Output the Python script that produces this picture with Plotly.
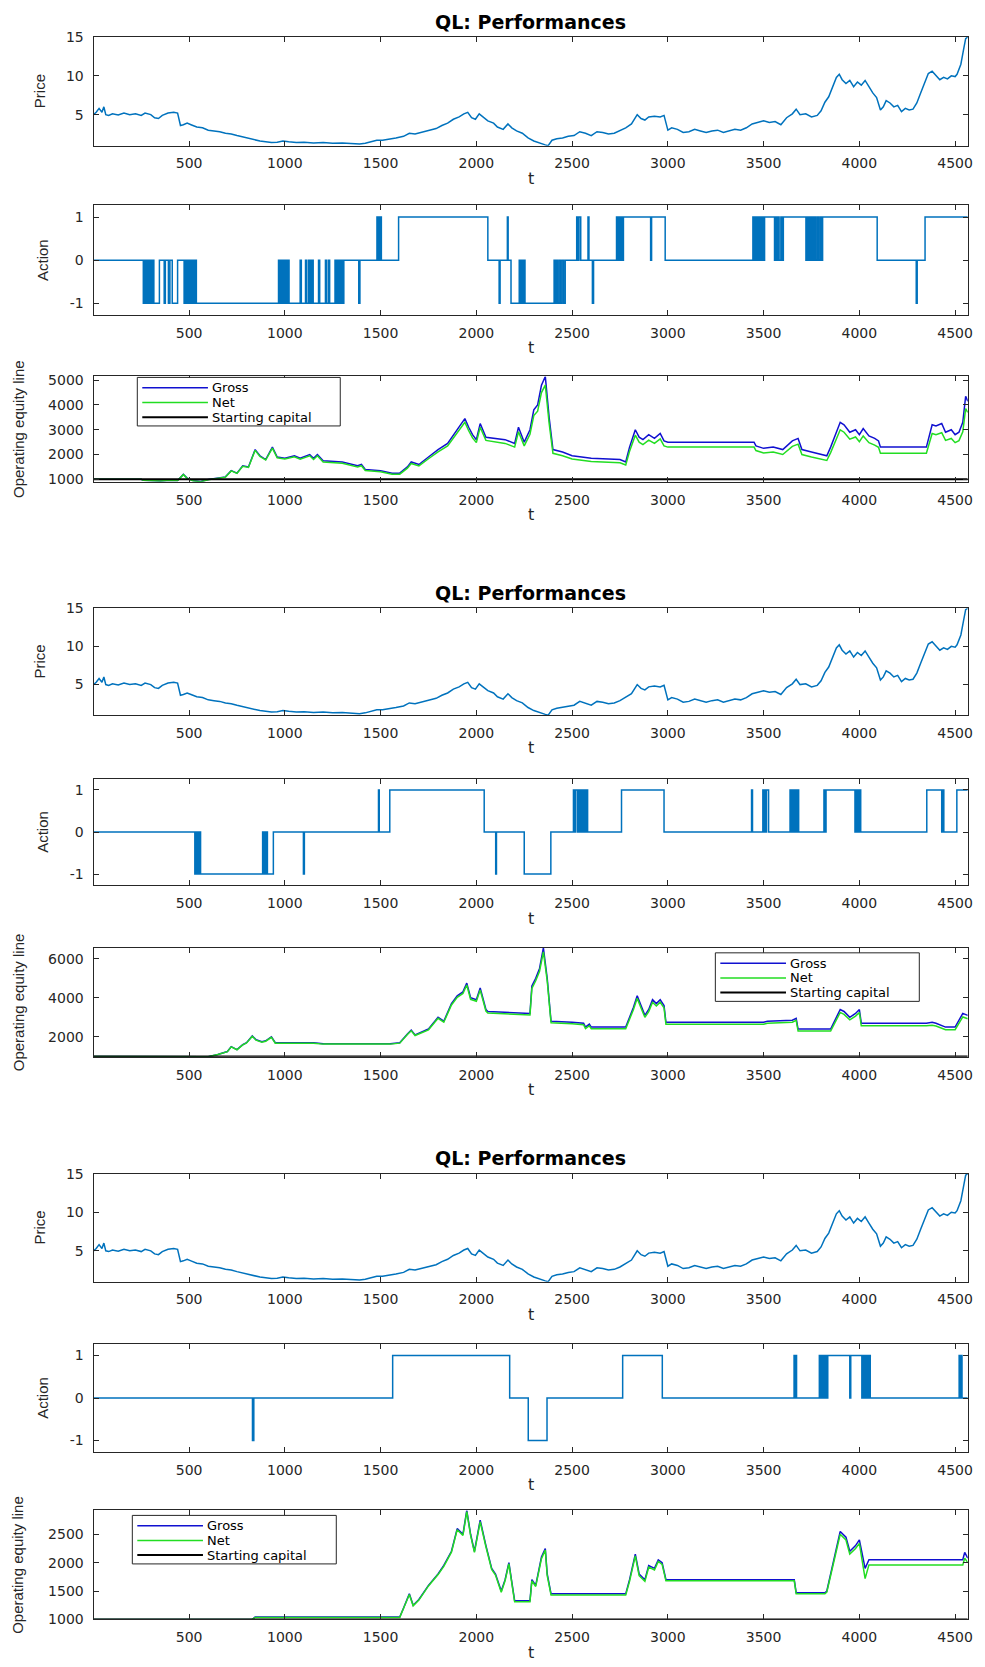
import plotly.graph_objects as go

W, H = 985, 1667

# ---------------- data ----------------
T_RANGE = [1, 4566]
X_TICKS = [500, 1000, 1500, 2000, 2500, 3000, 3500, 4000, 4500]

price_t = [1, 15, 30, 45, 55, 65, 80, 100, 130, 160, 190, 220, 250, 270, 300, 320, 340, 360, 390, 420,
           440, 455, 470, 490, 510, 540, 570, 600, 630, 660, 690, 720, 750, 780, 810, 840, 870, 900, 930,
           960, 990, 1020, 1060, 1100, 1150, 1200, 1250, 1300, 1350, 1390, 1420, 1450, 1480, 1510, 1540,
           1580, 1620, 1650, 1680, 1710, 1750, 1790, 1820, 1850, 1880, 1910, 1935, 1955, 1975, 1995, 2015,
           2030, 2060, 2090, 2110, 2140, 2165, 2185, 2210, 2240, 2270, 2300, 2330, 2360, 2375, 2395, 2420,
           2450, 2480, 2510, 2540, 2570, 2600, 2630, 2660, 2690, 2720, 2750, 2780, 2810, 2840, 2860, 2880,
           2900, 2930, 2960, 2980, 3000, 3020, 3050, 3080, 3110, 3140, 3170, 3200, 3230, 3260, 3290, 3320,
           3350, 3380, 3410, 3440, 3470, 3500, 3530, 3560, 3590, 3620, 3650, 3670, 3690, 3720, 3750, 3780,
           3800, 3820, 3840, 3860, 3880, 3895, 3910, 3930, 3950, 3970, 3990, 4010, 4030, 4050, 4070, 4090,
           4110, 4125, 4140, 4160, 4180, 4200, 4220, 4240, 4260, 4280, 4300, 4320, 4340, 4360, 4380, 4400,
           4420, 4440, 4460, 4480, 4500, 4510, 4530, 4545, 4555, 4566]
price_v = [5.0, 5.3, 5.8, 5.3, 6.0, 5.0, 4.9, 5.1, 4.95, 5.2, 5.0, 5.1, 4.9, 5.2, 5.0, 4.6, 4.5, 4.9, 5.2, 5.3,
           5.2, 3.6, 3.7, 3.9, 3.7, 3.4, 3.3, 3.0, 2.9, 2.8, 2.6, 2.5, 2.3, 2.1, 1.9, 1.7, 1.6, 1.5, 1.4,
           1.45, 1.6, 1.5, 1.4, 1.45, 1.35, 1.4, 1.3, 1.35, 1.25, 1.2, 1.3, 1.5, 1.7, 1.7, 1.8,
           2.0, 2.2, 2.6, 2.5, 2.7, 3.0, 3.2, 3.6, 3.9, 4.4, 4.7, 5.1, 5.3, 4.6, 4.4, 5.1,
           4.8, 4.2, 3.9, 3.4, 3.1, 3.8, 3.3, 2.9, 2.6, 2.0, 1.6, 1.3, 1.1, 1.0, 1.7, 1.9,
           2.0, 2.2, 2.3, 2.8, 2.6, 2.3, 2.8, 2.7, 2.5, 2.6, 2.9, 3.3, 3.8, 5.0, 4.5, 4.3,
           4.7, 4.8, 4.7, 4.9, 3.0, 3.3, 3.1, 2.7, 2.8, 3.1, 2.9, 2.7, 2.9, 3.0, 2.7, 2.9,
           3.1, 3.0, 3.3, 3.8, 4.0, 4.2, 4.0, 4.1, 3.7, 4.6, 5.1, 5.7, 5.0, 5.1, 4.7, 4.9,
           5.5, 6.6, 7.3, 8.5, 9.8, 10.2, 9.5, 9.0, 9.4, 8.6, 9.2, 8.8, 9.4, 8.6, 7.8, 7.2,
           5.6, 6.0, 6.8, 6.5, 6.0, 6.2, 5.4, 5.8, 5.6, 5.7, 6.5, 7.8, 9.0, 10.3, 10.6, 10.0,
           9.5, 9.8, 9.6, 10.0, 9.9, 10.2, 11.5, 13.5, 14.8, 15.0]

# Action change points (step function), one per agent
act1_t = [1, 261, 266, 271, 277, 282, 288, 293, 299, 305, 311, 316,
          345, 370, 376, 392, 400, 412,
          440, 474, 479, 484, 489, 494, 499, 505, 510, 516, 521, 527, 532, 538,
          967, 972, 978, 984, 990, 996, 1002, 1010, 1016, 1022,
          1080, 1086, 1108, 1114, 1124, 1128, 1133, 1138, 1143, 1148,
          1176, 1182, 1212, 1218, 1228, 1234,
          1262, 1267, 1272, 1278, 1284, 1290, 1296, 1302, 1308,
          1386, 1392,
          1481, 1486, 1490, 1495, 1499, 1504,
          1594, 2060, 2119, 2124, 2162, 2166, 2181,
          2224, 2230, 2236, 2242, 2248, 2254,
          2406, 2412, 2418, 2424, 2432, 2440, 2448, 2456, 2464, 2472,
          2524, 2530, 2536, 2545, 2583, 2588, 2606, 2612,
          2732, 2738, 2744, 2750, 2756, 2762, 2768,
          2910, 2915, 2986,
          3444, 3450, 3456, 3462, 3468, 3474, 3480, 3486, 3492, 3498, 3505,
          3557, 3563, 3569, 3575, 3581, 3590, 3596, 3603,
          3721, 3727, 3733, 3740, 3746, 3752, 3758, 3765, 3772, 3780, 3788, 3796, 3802, 3808,
          4093, 4297, 4302, 4343, 4566]
act1_v = [0, -1, 0, -1, 0, -1, 0, -1, 0, -1, 0, -1,
          0, -1, 0, -1, 0, -1,
          0, -1, 0, -1, 0, -1, 0, -1, 0, -1, 0, -1, 0, -1,
          0, -1, 0, -1, 0, -1, 0, -1, 0, -1,
          0, -1, 0, -1, 0, -1, 0, -1, 0, -1,
          0, -1, 0, -1, 0, -1,
          0, -1, 0, -1, 0, -1, 0, -1, 0,
          -1, 0,
          1, 0, 1, 0, 1, 0,
          1, 0, -1, 0, 1, 0, -1,
          0, -1, 0, -1, 0, -1,
          0, -1, 0, -1, 0, -1, 0, -1, 0, 0,
          1, 0, 1, 0, 1, 0, -1, 0,
          1, 0, 1, 0, 1, 0, 1,
          0, 1, 0,
          1, 0, 1, 0, 1, 0, 1, 0, 1, 0, 1,
          0, 1, 0, 1, 0, 1, 0, 1,
          0, 1, 0, 1, 0, 1, 0, 1, 0, 1, 0, 1, 0, 1,
          0, -1, 0, 1, 1]

act2_t = [1, 530, 535, 540, 545, 550, 555, 560,
          884, 889, 894, 899, 904, 909, 940,
          1097, 1102, 1489, 1493,
          1548, 2041, 2101, 2105, 2250, 2389,
          2507, 2512, 2517, 2527, 2532, 2538, 2543, 2549, 2554, 2560, 2565, 2570, 2575, 2581,
          2758, 2980, 3437, 3442,
          3496, 3500, 3505, 3510, 3515, 3526,
          3638, 3643, 3648, 3653, 3658, 3663, 3668, 3673, 3678, 3683,
          3815, 3820, 3826,
          3977, 3982, 3987, 3992, 3997, 4002, 4007,
          4352, 4430, 4435, 4441,
          4509, 4566]
act2_v = [0, -1, 0, -1, 0, -1, 0, -1,
          0, -1, 0, -1, 0, -1, 0,
          -1, 0, 1, 0,
          1, 0, -1, 0, -1, 0,
          1, 0, 1, 0, 1, 0, 1, 0, 1, 0, 1, 0, 1, 0,
          1, 0, 1, 0,
          1, 0, 1, 0, 1, 0,
          1, 0, 1, 0, 1, 0, 1, 0, 1, 0,
          1, 0, 1,
          0, 1, 0, 1, 0, 1, 0,
          1, 0, 1, 0,
          1, 1]

act3_t = [1, 831, 838, 1563, 2174, 2271, 2369, 2764, 2971,
          3659, 3663, 3667, 3672,
          3791, 3796, 3801, 3806, 3811, 3818, 3823, 3829, 3835,
          3950, 3955,
          4013, 4018, 4024, 4030, 4036, 4042, 4048, 4053, 4057,
          4521, 4526, 4531, 4536, 4566]
act3_v = [0, -1, 0, 1, 0, -1, 0, 1, 0,
          1, 0, 1, 0,
          1, 0, 1, 0, 1, 0, 1, 0, 1,
          0, 1,
          0, 1, 0, 1, 0, 1, 0, 1, 0,
          1, 0, 1, 0, 0]

# Operating equity lines
eq1_t = [1, 250, 262, 300, 350, 400, 440, 470, 490, 520, 560, 600, 650, 690, 720, 750, 780, 810, 845, 870,
         900, 935, 960, 1000, 1050, 1080, 1130, 1150, 1170, 1200, 1300, 1380, 1400, 1420, 1500, 1560, 1600,
         1640, 1660, 1700, 1750, 1800, 1850, 1900, 1940, 1960, 1980, 2000, 2020, 2050, 2100, 2150, 2200,
         2220, 2250, 2280, 2300, 2320, 2340, 2360, 2380, 2400, 2450, 2500, 2600, 2700, 2750, 2780, 2800,
         2830, 2850, 2870, 2900, 2930, 2960, 2980, 3000, 3450, 3460, 3500, 3550, 3600, 3650, 3680, 3700,
         3750, 3800, 3830, 3850, 3900, 3920, 3950, 3980, 4000, 4020, 4050, 4080, 4100, 4110, 4350, 4380,
         4400, 4430, 4450, 4480, 4500, 4520, 4540, 4555, 4566]
eq1_gross = [1000, 1000, 960, 940, 930, 960, 950, 1200, 1050, 950, 910, 990, 1050, 1100, 1350, 1250, 1550, 1500, 2200, 1950,
             1800, 2300, 1900, 1850, 1950, 1850, 2000, 1850, 2000, 1750, 1700, 1550, 1600, 1400, 1350, 1250, 1250,
             1500, 1700, 1600, 1900, 2200, 2450, 3000, 3450, 3100, 2800, 2600, 3250, 2700, 2650, 2600, 2450,
             3100, 2500, 3000, 3800, 4000, 4800, 5150, 3500, 2200, 2100, 1950, 1850, 1800, 1800, 1700, 2300,
             3000, 2700, 2600, 2800, 2650, 2850, 2550, 2500, 2500, 2350, 2250, 2300, 2200, 2550, 2650, 2200,
             2100, 2000, 1950, 2300, 3300, 3200, 2900, 3000, 2800, 3050, 2750, 2650, 2550, 2300, 2300, 3200,
             3150, 3250, 2900, 3000, 2800, 2900, 3300, 4350, 4150]
eq1_net = [1000, 1000, 960, 940, 930, 960, 950, 1190, 1040, 945, 905, 985, 1045, 1090, 1340, 1240, 1530, 1480, 2170, 1920,
           1780, 2260, 1870, 1820, 1910, 1810, 1950, 1800, 1950, 1700, 1650, 1500, 1550, 1360, 1310, 1210, 1210,
           1450, 1640, 1540, 1830, 2110, 2350, 2880, 3300, 2960, 2670, 2480, 3100, 2570, 2500, 2450, 2300,
           2920, 2350, 2820, 3570, 3750, 4500, 4800, 3270, 2050, 1950, 1820, 1720, 1670, 1670, 1580, 2130,
           2780, 2500, 2400, 2580, 2450, 2630, 2350, 2300, 2300, 2160, 2060, 2100, 2000, 2330, 2420, 2000,
           1900, 1800, 1760, 2080, 3000, 2900, 2620, 2710, 2520, 2750, 2480, 2380, 2290, 2050, 2050, 2850,
           2800, 2880, 2570, 2650, 2480, 2560, 2920, 3850, 3700]

eq2_t = [1, 560, 600, 650, 700, 720, 750, 780, 800, 830, 850, 880, 900, 930, 950, 1150, 1200, 1550, 1600, 1640,
         1660, 1680, 1750, 1800, 1830, 1870, 1900, 1930, 1950, 1970, 2000, 2020, 2050, 2060, 2280, 2290, 2310,
         2330, 2350, 2370, 2390, 2500, 2560, 2570, 2590, 2600, 2780, 2820, 2840, 2860, 2880, 2900, 2920, 2940,
         2960, 2980, 2990, 3500, 3520, 3650, 3670, 3680, 3850, 3900, 3920, 3950, 3980, 4000, 4010, 4350, 4380,
         4400, 4450, 4500, 4540, 4566]
eq2_gross = [1000, 1000, 980, 1100, 1250, 1500, 1350, 1600, 1700, 2050, 1850, 1750, 1800, 2000, 1700, 1700, 1650, 1650, 1700, 2150,
             2350, 2100, 2400, 3000, 2800, 3700, 4100, 4300, 4750, 4000, 3900, 4500, 3400, 3300, 3200, 4600, 5000,
             5500, 6550, 5000, 2800, 2750, 2700, 2500, 2650, 2500, 2500, 3500, 4100, 3600, 3100, 3400, 3900, 3700,
             3900, 3600, 2750, 2750, 2800, 2850, 2950, 2400, 2400, 3400, 3300, 3000, 3200, 3400, 2700, 2700, 2750,
             2700, 2500, 2500, 3200, 3100]
eq2_net = [1000, 1000, 980, 1100, 1245, 1490, 1340, 1590, 1690, 2030, 1830, 1730, 1780, 1980, 1680, 1680, 1630, 1630, 1680, 2120,
           2310, 2070, 2360, 2950, 2750, 3630, 4020, 4220, 4650, 3920, 3820, 4400, 3320, 3220, 3120, 4480, 4870,
           5350, 6350, 4860, 2720, 2670, 2620, 2420, 2570, 2420, 2420, 3390, 3970, 3480, 3000, 3290, 3770, 3580,
           3770, 3480, 2650, 2650, 2700, 2750, 2850, 2300, 2300, 3250, 3150, 2870, 3060, 3250, 2570, 2570, 2600,
           2560, 2370, 2370, 3020, 2930]

eq3_t = [1, 830, 845, 1600, 1620, 1650, 1670, 1700, 1750, 1800, 1830, 1870, 1900, 1930, 1950, 1970, 1990, 2020,
         2050, 2080, 2100, 2130, 2150, 2170, 2190, 2200, 2280, 2290, 2310, 2340, 2360, 2370, 2390, 2780, 2800,
         2830, 2850, 2880, 2900, 2930, 2950, 2970, 2990, 3660, 3670, 3820, 3830, 3870, 3900, 3930, 3950, 3980,
         4000, 4030, 4050, 4540, 4550, 4566]
eq3_gross = [1000, 1000, 1040, 1040, 1200, 1450, 1250, 1350, 1600, 1800, 1950, 2200, 2600, 2500, 2920, 2500, 2200, 2750,
             2300, 1900, 1800, 1500, 1700, 2000, 1550, 1330, 1330, 1700, 1600, 2100, 2250, 1800, 1450, 1450, 1700,
             2150, 1800, 1700, 1950, 1900, 2050, 2000, 1700, 1700, 1470, 1470, 1500, 2100, 2550, 2450, 2200, 2300,
             2400, 1900, 2050, 2050, 2180, 2080]
eq3_net = [1000, 1000, 1035, 1035, 1195, 1440, 1240, 1340, 1590, 1790, 1935, 2185, 2580, 2480, 2900, 2480, 2180, 2720,
           2280, 1880, 1780, 1480, 1680, 1980, 1530, 1310, 1310, 1680, 1580, 2070, 2220, 1770, 1430, 1430, 1670,
           2120, 1770, 1670, 1920, 1870, 2020, 1970, 1680, 1680, 1450, 1450, 1480, 2060, 2500, 2400, 2150, 2250,
           2340, 1720, 1960, 1960, 2080, 2000]

START_CAPITAL = 1000
EQ_TICKS = [[1000, 2000, 3000, 4000, 5000], [2000, 4000, 6000], [1000, 1500, 2000, 2500]]
ACTION_RANGE = [-1.27, 1.27]
LEGEND_LABELS = ["Gross", "Net", "Starting capital"]
TITLE = "QL: Performances"

# ---------------- styling ----------------
FONT = "DejaVu Sans"
AX_COL = "#262626"
TXT_COL = "#262626"
LINE_BLUE = "#0072BD"
GROSS_COL = "#1010d0"
NET_COL = "#22dd22"
START_COL = "#000000"

# panel pixel boxes (top, bottom)
panels_px = [(29.3, 139), (199.3, 310), (372, 478.3),
             (606, 714), (778, 886), (949, 1059),
             (1177, 1286), (1349, 1458), (1517, 1627)]
X_LEFT, X_RIGHT = 94, 972.7
xdom = [X_LEFT / W, X_RIGHT / W]
# legend boxes (left, top, right, bottom) in px
legend_px = [(138, 373, 342, 422), (719, 954, 924, 1003), (133, 1522, 338, 1571)]


def py(px):
    return 1 - px / H


def px_x(px):
    return px / W


fig = go.Figure()

actions = [(act1_t, act1_v), (act2_t, act2_v), (act3_t, act3_v)]
equities = [(eq1_t, eq1_gross, eq1_net), (eq2_t, eq2_gross, eq2_net), (eq3_t, eq3_gross, eq3_net)]

layout = dict(width=W, height=H, margin=dict(l=0, r=0, t=0, b=0),
              paper_bgcolor="white", plot_bgcolor="white", showlegend=False)
annotations = []
shapes = []


def axis_style(rng, ticks, standoff):
    return dict(range=rng, showline=True, mirror="ticks", linecolor=AX_COL, linewidth=1,
                ticks="inside", ticklen=5, tickwidth=1, tickcolor=AX_COL,
                tickfont=dict(family=FONT, size=14, color=TXT_COL),
                ticklabelstandoff=standoff,
                showgrid=False, zeroline=False, tickmode="array", tickvals=ticks,
                ticktext=[str(v) for v in ticks])


for g in range(3):
    base = 3 * g
    a = base + 1
    fig.add_trace(go.Scatter(x=price_t, y=price_v, mode="lines", line=dict(color=LINE_BLUE, width=1.5),
                             xaxis=f"x{a}", yaxis=f"y{a}", name="Price"))
    a = base + 2
    at, av = actions[g]
    fig.add_trace(go.Scatter(x=at, y=av, mode="lines", line=dict(color=LINE_BLUE, width=1.5, shape="hv"),
                             xaxis=f"x{a}", yaxis=f"y{a}", name="Action"))
    a = base + 3
    et, eg, en = equities[g]
    fig.add_trace(go.Scatter(x=et, y=eg, mode="lines", name="Gross", line=dict(color=GROSS_COL, width=1.5),
                             xaxis=f"x{a}", yaxis=f"y{a}"))
    fig.add_trace(go.Scatter(x=et, y=en, mode="lines", name="Net", line=dict(color=NET_COL, width=1.5),
                             xaxis=f"x{a}", yaxis=f"y{a}"))
    fig.add_trace(go.Scatter(x=T_RANGE, y=[START_CAPITAL, START_CAPITAL], mode="lines", name="Starting capital",
                             line=dict(color=START_COL, width=2), xaxis=f"x{a}", yaxis=f"y{a}"))

    eq_min = min(min(eg), min(en), START_CAPITAL)
    eq_max = max(max(eg), max(en))
    ranges = [[min(price_v), max(price_v)], ACTION_RANGE, [eq_min, eq_max]]
    yticks = [[5, 10, 15], [-1, 0, 1], EQ_TICKS[g]]
    ylabels = ["Price", "Action", "Operating equity line"]
    ylab_x = [40, 42, 18]

    for k in range(3):
        a = base + k + 1
        top, bot = panels_px[a - 1]
        xs = axis_style(T_RANGE, X_TICKS, 5)
        xs.update(domain=xdom, anchor=f"y{a}")
        ys = axis_style(ranges[k], yticks[k], 6)
        ys.update(domain=[py(bot), py(top)], anchor=f"x{a}")
        layout["xaxis" if a == 1 else f"xaxis{a}"] = xs
        layout["yaxis" if a == 1 else f"yaxis{a}"] = ys
        annotations.append(dict(text="t", x=(X_LEFT + X_RIGHT) / 2 / W, y=py(bot + 33), xref="paper",
                                yref="paper", showarrow=False, xanchor="center", yanchor="middle",
                                font=dict(family=FONT, size=16, color=TXT_COL)))
        annotations.append(dict(text=ylabels[k], x=ylab_x[k] / W, y=py((top + bot) / 2), xref="paper",
                                yref="paper", showarrow=False, xanchor="center", yanchor="middle",
                                textangle=-90, font=dict(family="Liberation Sans", size=15, color=TXT_COL)))

    top1 = panels_px[base][0]
    annotations.append(dict(text=f"<b>{TITLE}</b>", x=(X_LEFT + X_RIGHT) / 2 / W, y=py(top1 - 15.5),
                            xref="paper", yref="paper", showarrow=False, xanchor="center", yanchor="middle",
                            font=dict(family=FONT, size=19, color="#000000")))

    # legend box drawn in paper space
    L, T, R, B = legend_px[g]
    shapes.append(dict(type="rect", xref="paper", yref="paper", x0=px_x(L), x1=px_x(R), y0=py(B), y1=py(T),
                       line=dict(color=AX_COL, width=1), fillcolor="white", layer="above"))
    cols = [GROSS_COL, NET_COL, START_COL]
    widths = [1.5, 1.5, 2]
    for i, lab in enumerate(LEGEND_LABELS):
        yy = T + 10.5 + 14.8 * i
        shapes.append(dict(type="line", xref="paper", yref="paper", x0=px_x(L + 5), x1=px_x(L + 71),
                           y0=py(yy), y1=py(yy), line=dict(color=cols[i], width=widths[i]), layer="above"))
        annotations.append(dict(text=lab, x=px_x(L + 73), y=py(yy), xref="paper", yref="paper",
                                showarrow=False, xanchor="left", yanchor="middle",
                                font=dict(family=FONT, size=13, color="#000000")))

layout["annotations"] = annotations
layout["shapes"] = shapes
fig.update_layout(**layout)
fig.write_html("out.html")
